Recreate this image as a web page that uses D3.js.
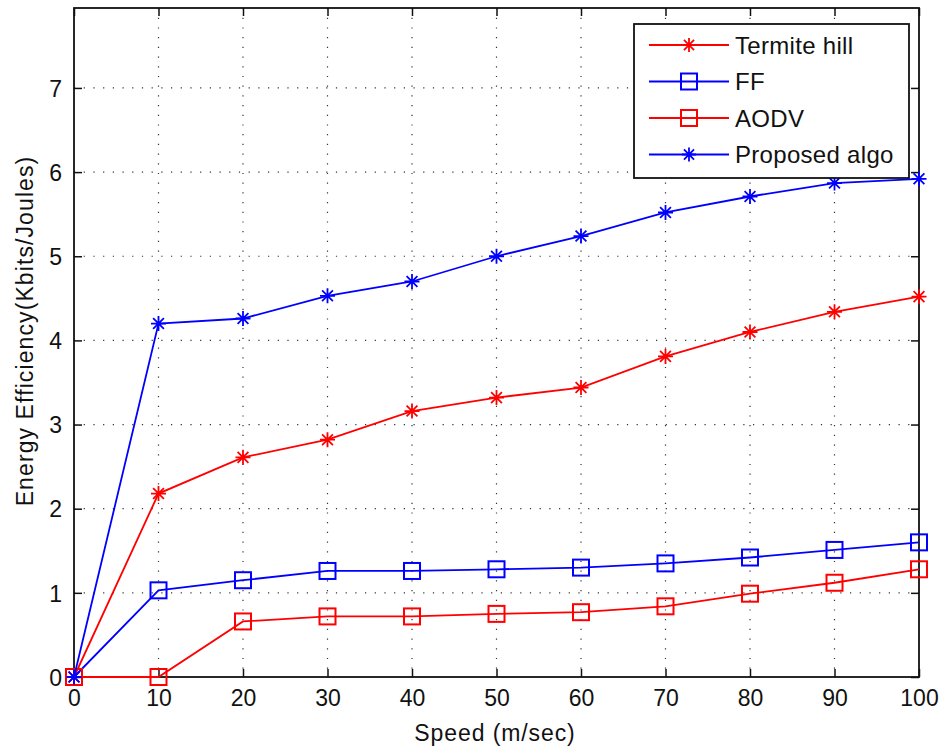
<!DOCTYPE html>
<html>
<head>
<meta charset="utf-8">
<script src="https://cdn.jsdelivr.net/npm/d3@7"></script>
<style>
  body { margin: 0; background: #fff; }
  svg text { font-family: "Liberation Sans", Arial, sans-serif; fill: #111; }
</style>
</head>
<body>
<div id="chart"></div>
<script>
// данные
const speeds = [0, 10, 20, 30, 40, 50, 60, 70, 80, 90, 100];
const termiteHill = [0, 2.18, 2.61, 2.82, 3.16, 3.32, 3.44, 3.81, 4.10, 4.34, 4.52];
const ffValues = [0, 1.03, 1.15, 1.26, 1.26, 1.28, 1.30, 1.35, 1.42, 1.51, 1.60];
const aodvValues = [0, 0, 0.66, 0.72, 0.72, 0.75, 0.77, 0.84, 0.99, 1.12, 1.28];
const proposedAlgo = [0, 4.20, 4.26, 4.53, 4.70, 5.00, 5.24, 5.52, 5.71, 5.87, 5.92];
const xTicks = [0, 10, 20, 30, 40, 50, 60, 70, 80, 90, 100];
const yTicks = [0, 1, 2, 3, 4, 5, 6, 7];

const series = [
    { name: "Termite hill", values: termiteHill, color: "#ff0000", marker: "star" },
    { name: "FF", values: ffValues, color: "#0000ff", marker: "square" },
    { name: "AODV", values: aodvValues, color: "#ff0000", marker: "square" },
    { name: "Proposed algo", values: proposedAlgo, color: "#0000ff", marker: "star" }
];

const width = 940, height = 748;
const margin = { left: 74, right: 21, top: 8, bottom: 71 };
const innerW = width - margin.left - margin.right;
const innerH = height - margin.top - margin.bottom;

const svg = d3.select("#chart").append("svg")
    .attr("width", width)
    .attr("height", height);

const g = svg.append("g")
    .attr("transform", `translate(${margin.left},${margin.top})`);

const x = d3.scaleLinear().domain([0, 100]).range([0, innerW]);
const y = d3.scaleLinear().domain([0, 7.95]).range([innerH, 0]);

// сетка (пунктир)
g.append("g").selectAll("line")
    .data(xTicks.slice(1, -1))
    .enter().append("line")
    .attr("x1", d => x(d)).attr("x2", d => x(d))
    .attr("y1", 0).attr("y2", innerH)
    .attr("stroke", "#333")
    .attr("stroke-width", 1.2)
    .attr("stroke-dasharray", "1.2,8.5");

g.append("g").selectAll("line")
    .data(yTicks.slice(1))
    .enter().append("line")
    .attr("x1", 0).attr("x2", innerW)
    .attr("y1", d => y(d)).attr("y2", d => y(d))
    .attr("stroke", "#333")
    .attr("stroke-width", 1.2)
    .attr("stroke-dasharray", "1.2,8.5");

// оси (тики внутрь)
const tickLen = 8;
const xAxis = g.append("g")
    .attr("transform", `translate(0,${innerH})`)
    .call(d3.axisBottom(x).tickValues(xTicks).tickSize(-tickLen).tickPadding(13));
const yAxis = g.append("g")
    .call(d3.axisLeft(y).tickValues(yTicks).tickSize(-tickLen).tickPadding(12));
g.append("g")
    .call(d3.axisTop(x).tickValues(xTicks).tickSize(-tickLen).tickFormat(""));
g.append("g")
    .attr("transform", `translate(${innerW},0)`)
    .call(d3.axisRight(y).tickValues(yTicks).tickSize(-tickLen).tickFormat(""));

g.selectAll(".domain").remove();
g.selectAll(".tick line").attr("stroke", "#111").attr("stroke-width", 1.5);
xAxis.selectAll("text").style("font-size", "23px");
yAxis.selectAll("text").style("font-size", "23px").attr("dy", "0.36em");

// рамка
g.append("rect")
    .attr("width", innerW).attr("height", innerH)
    .attr("fill", "none")
    .attr("stroke", "#111")
    .attr("stroke-width", 1.8);

// маркеры
function drawMarker(sel, type, color, size) {
    if (type === "square") {
        sel.append("rect")
            .attr("x", -size / 2).attr("y", -size / 2)
            .attr("width", size).attr("height", size)
            .attr("fill", "none")
            .attr("stroke", color)
            .attr("stroke-width", 2);
    } else {
        const r = size / 2, d = r * 0.72;
        sel.append("path")
            .attr("d", `M${-r},0L${r},0M0,${-r}L0,${r}M${-d},${-d}L${d},${d}M${-d},${d}L${d},${-d}`)
            .attr("stroke", color)
            .attr("stroke-width", 1.8);
    }
}

const line = d3.line()
    .x((d, i) => x(speeds[i]))
    .y(d => y(d));

series.forEach(s => {
    const sg = g.append("g");
    sg.append("path")
        .datum(s.values)
        .attr("d", line)
        .attr("fill", "none")
        .attr("stroke", s.color)
        .attr("stroke-width", 1.8);
    sg.selectAll("g.pt")
        .data(s.values)
        .enter().append("g")
        .attr("class", "pt")
        .attr("transform", (d, i) => `translate(${x(speeds[i])},${y(d)})`)
        .each(function () {
            drawMarker(d3.select(this), s.marker, s.color, s.marker === "square" ? 16 : 15);
        });
});

// легенда
const legend = svg.append("g").attr("transform", "translate(634,24)");
legend.append("rect")
    .attr("width", 275).attr("height", 154)
    .attr("fill", "#fff")
    .attr("stroke", "#111")
    .attr("stroke-width", 1.8);
series.forEach((s, i) => {
    const ly = 21 + i * 36.5;
    const item = legend.append("g").attr("transform", `translate(0,${ly})`);
    item.append("line")
        .attr("x1", 15).attr("x2", 95)
        .attr("stroke", s.color)
        .attr("stroke-width", 1.8);
    const m = item.append("g").attr("transform", "translate(55,0)");
    drawMarker(m, s.marker, s.color, s.marker === "square" ? 16 : 14);
    item.append("text")
        .attr("x", 101).attr("y", 0)
        .attr("dy", "0.36em")
        .style("font-size", "24px")
        .style("letter-spacing", "0.3px")
        .text(s.name);
});

// подписи осей
svg.append("text")
    .attr("x", 495)
    .attr("y", 741)
    .attr("text-anchor", "middle")
    .style("font-size", "23px")
    .style("letter-spacing", "0.9px")
    .text("Speed (m/sec)");

svg.append("text")
    .attr("transform", "translate(33,331) rotate(-90)")
    .attr("text-anchor", "middle")
    .style("font-size", "23px")
    .style("letter-spacing", "1.1px")
    .text("Energy Efficiency(Kbits/Joules)");
</script>
</body>
</html>
